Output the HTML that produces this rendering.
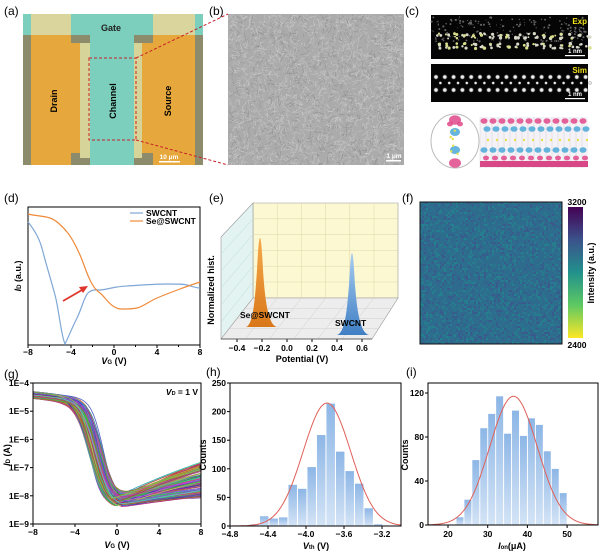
<!DOCTYPE html>
<html><head><meta charset="utf-8">
<style>
html,body{margin:0;padding:0;background:#fff;}
svg{display:block;font-family:"Liberation Sans",sans-serif;}
.pl{font-size:12px;}
.tk{font-size:8.5px;font-weight:bold;}
.lb{font-size:9px;font-weight:bold;}
</style></head>
<body>
<svg id="s" width="600" height="556" viewBox="0 0 600 556" xmlns="http://www.w3.org/2000/svg">
<defs>
<linearGradient id="bar" x1="0" y1="0" x2="0" y2="1"><stop offset="0" stop-color="#8db6e6"/><stop offset="1" stop-color="#d4e4f6"/></linearGradient>
<linearGradient id="vir" x1="0" y1="1" x2="0" y2="0">
<stop offset="0" stop-color="#fde725"/><stop offset="0.25" stop-color="#5ec962"/><stop offset="0.5" stop-color="#21918c"/><stop offset="0.75" stop-color="#3b528b"/><stop offset="1" stop-color="#440154"/></linearGradient>
<linearGradient id="og" x1="0" y1="0" x2="0" y2="1"><stop offset="0" stop-color="#f5a94a"/><stop offset="1" stop-color="#d9781a"/></linearGradient>
<linearGradient id="bg" x1="0" y1="0" x2="0" y2="1"><stop offset="0" stop-color="#a8cdf0"/><stop offset="1" stop-color="#3f7fc4"/></linearGradient>
<radialGradient id="dot"><stop offset="0" stop-color="#fff"/><stop offset="0.5" stop-color="#ddd"/><stop offset="1" stop-color="#000" stop-opacity="0"/></radialGradient>
<clipPath id="cb"><rect x="228" y="14" width="176" height="151"/></clipPath>
<clipPath id="cf"><rect x="420" y="202" width="142" height="142"/></clipPath>
<clipPath id="cg"><rect x="33" y="383" width="168" height="141"/></clipPath>
<clipPath id="ch"><rect x="230" y="383" width="171" height="143"/></clipPath>
<clipPath id="ci"><rect x="428" y="383" width="170" height="142"/></clipPath>
</defs>

<text class="pl" x="4" y="15">(a)</text>
<text class="pl" x="209" y="15">(b)</text>
<text class="pl" x="405" y="15">(c)</text>
<text class="pl" x="4" y="202">(d)</text>
<text class="pl" x="209" y="202">(e)</text>
<text class="pl" x="402" y="202">(f)</text>
<text class="pl" x="4" y="378">(g)</text>
<text class="pl" x="206" y="376">(h)</text>
<text class="pl" x="406" y="376">(i)</text>

<!-- (a) -->
<rect x="23" y="14" width="180" height="151" fill="#7ccfbd"/>
<rect x="31" y="14" width="40" height="21" fill="#d9d59c"/>
<rect x="153" y="14" width="42" height="21" fill="#d9d59c"/>
<rect x="23" y="35" width="8" height="130" fill="#8c8b6c"/>
<rect x="195" y="35" width="8" height="130" fill="#8c8b6c"/>
<rect x="31" y="35" width="49" height="130" fill="#e6a83c"/>
<rect x="142" y="35" width="53" height="130" fill="#e6a83c"/>
<rect x="71" y="35" width="19" height="8" fill="#8c8b6c"/>
<rect x="134" y="35" width="19" height="8" fill="#8c8b6c"/>
<rect x="71" y="153" width="19" height="12" fill="#8c8b6c"/>
<rect x="134" y="153" width="19" height="12" fill="#8c8b6c"/>
<rect x="80" y="43" width="10" height="115" fill="#d7d49a"/>
<rect x="134" y="43" width="8" height="115" fill="#d7d49a"/>
<rect x="90" y="35" width="44" height="130" fill="#7ccfbd"/>
<rect x="89" y="58" width="47" height="82" fill="none" stroke="#c8202a" stroke-width="1" stroke-dasharray="3,2"/>
<line x1="136" y1="58" x2="228" y2="14" stroke="#c8202a" stroke-dasharray="3,2"/>
<line x1="136" y1="140" x2="228" y2="165" stroke="#c8202a" stroke-dasharray="3,2"/>
<text class="lb" x="111" y="31" text-anchor="middle" fill="#222">Gate</text>
<text class="lb" transform="translate(57,101) rotate(-90)" text-anchor="middle">Drain</text>
<text class="lb" transform="translate(116,101) rotate(-90)" text-anchor="middle">Channel</text>
<text class="lb" transform="translate(171,101) rotate(-90)" text-anchor="middle">Source</text>
<text x="169" y="159" font-size="6.5" font-weight="bold" fill="#fff" text-anchor="middle">10 μm</text>
<rect x="159" y="161" width="21" height="1.5" fill="#fff"/>

<!-- (b) -->
<rect x="228" y="14" width="176" height="151" fill="#ababab"/>
<g id="bt" clip-path="url(#cb)"></g>
<text x="394" y="158" font-size="6.5" font-weight="bold" fill="#fff" text-anchor="middle">1 μm</text>
<rect x="386" y="160" width="15" height="1.5" fill="#fff"/>

<!-- (c) -->
<rect x="431" y="15" width="157" height="44" fill="#050505"/>
<g id="ce"></g>
<text x="587" y="24" font-size="8" font-weight="bold" fill="#f2e21a" text-anchor="end">Exp</text>
<text x="575" y="53" font-size="6" font-weight="bold" fill="#fff" text-anchor="middle">1 nm</text>
<rect x="565" y="55" width="20" height="1.2" fill="#fff"/>
<rect x="431" y="64" width="157" height="38" fill="#050505"/>
<g id="cs"></g>
<text x="587" y="73" font-size="8" font-weight="bold" fill="#f2e21a" text-anchor="end">Sim</text>
<text x="575" y="96" font-size="6" font-weight="bold" fill="#fff" text-anchor="middle">1 nm</text>
<rect x="565" y="98" width="20" height="1.2" fill="#fff"/>
<ellipse cx="455" cy="141" rx="24" ry="27" fill="none" stroke="#bbb" stroke-width="1"/>
<g id="cm"></g>

<!-- (d) -->
<rect x="28" y="207" width="172" height="138" fill="none" stroke="#000" stroke-width="1"/>
<path d="M28,222 C36,232 40,240 43,252 S51,280 55,295 S61,335 65,344 C68,338 72,328 77,318 S84,297 88,293 S96,290 100,290 S110,288 117,287 S155,284 167,284 S183,284 187,285 S196,288 200,288" fill="none" stroke="#7fa7d6" stroke-width="1.2"/>
<path d="M28,214 C36,216 44,216 50,218 S62,226 67,232 S76,246 80,255 S86,272 90,280 S96,290 100,293 S108,303 113,306 S119,309 123,309 S132,309 137,308 S150,301 157,298 S172,292 180,289 S194,284 200,282" fill="none" stroke="#ef8a3a" stroke-width="1.2"/>
<line x1="63" y1="301" x2="82" y2="290" stroke="#e0352a" stroke-width="1.8"/>
<polygon points="88,286 79,287 83,293" fill="#e0352a"/>
<line x1="130" y1="213" x2="143" y2="213" stroke="#7fa7d6" stroke-width="1.2"/>
<text class="tk" x="146" y="216">SWCNT</text>
<line x1="130" y1="221" x2="143" y2="221" stroke="#ef8a3a" stroke-width="1.2"/>
<text class="tk" x="146" y="224">Se@SWCNT</text>
<g id="dt"></g>
<text class="lb" transform="translate(21,276) rotate(-90)" text-anchor="middle"><tspan font-style="italic">I</tspan><tspan font-size="6">D</tspan> (a.u.)</text>
<text class="lb" x="114" y="364" text-anchor="middle"><tspan font-style="italic">V</tspan><tspan font-size="6">G</tspan> (V)</text>

<!-- (e) -->
<polygon points="253,203 398,203 398,298 253,298" fill="#fbf8d2" stroke="#999" stroke-width="0.6"/>
<polygon points="221,237 253,203 253,298 221,339" fill="#e3f3f1" stroke="#999" stroke-width="0.6"/>
<polygon points="221,339 253,298 398,298 372,339" fill="#ededed" stroke="#999" stroke-width="0.6"/>
<g id="eg" stroke="#ddd6a6" stroke-width="0.5"></g>
<path d="M246,327 C253,325 255,300 257,270 C258,250 259,238 260,238 C261,238 262,250 263,270 C265,300 268,325 277,327 Z" fill="url(#og)"/>
<path d="M337,335 C345,333 347,310 349,285 C350,265 351,253 352,253 C353,253 354,265 355,285 C357,310 360,333 369,335 Z" fill="url(#bg)"/>
<text class="tk" x="240" y="318">Se@SWCNT</text>
<text class="tk" x="335" y="326">SWCNT</text>
<g id="et"></g>
<text class="lb" x="302" y="362" text-anchor="middle">Potential (V)</text>
<text class="lb" transform="translate(214,290) rotate(-90)" text-anchor="middle">Normalized hist.</text>

<!-- (f) -->
<rect x="420" y="202" width="142" height="142" fill="#2d6c8d"/>
<g id="fm" clip-path="url(#cf)"></g>
<rect x="420" y="202" width="142" height="142" fill="none" stroke="#111" stroke-width="1"/>
<rect x="568" y="207" width="15" height="131" fill="url(#vir)"/>
<text class="tk" x="577" y="205" text-anchor="middle">3200</text>
<text class="tk" x="577" y="348" text-anchor="middle">2400</text>
<text class="lb" transform="translate(594,273) rotate(-90)" text-anchor="middle">Intensity (a.u.)</text>

<!-- (g) -->
<g id="gc" clip-path="url(#cg)"></g>
<rect x="33" y="383" width="168" height="141" fill="none" stroke="#000" stroke-width="1"/>
<g id="gt"></g>
<text class="tk" x="198" y="395" text-anchor="end"><tspan font-style="italic">V</tspan><tspan font-size="5.5">D</tspan> = 1 V</text>
<text class="lb" transform="translate(10,455) rotate(-90)" text-anchor="middle"><tspan font-style="italic">I</tspan><tspan font-size="6">D</tspan> (A)</text>
<text class="lb" x="117" y="548" text-anchor="middle"><tspan font-style="italic">V</tspan><tspan font-size="6">G</tspan> (V)</text>

<!-- (h) -->
<g id="hb" clip-path="url(#ch)"></g>
<rect x="230" y="383" width="171" height="143" fill="none" stroke="#000" stroke-width="1"/>
<g id="ht"></g>
<text class="lb" transform="translate(206,455) rotate(-90)" text-anchor="middle">Counts</text>
<text class="lb" x="316" y="549" text-anchor="middle"><tspan font-style="italic">V</tspan><tspan font-size="6">th</tspan> (V)</text>

<!-- (i) -->
<g id="ib" clip-path="url(#ci)"></g>
<rect x="428" y="383" width="170" height="142" fill="none" stroke="#000" stroke-width="1"/>
<g id="it"></g>
<text class="lb" transform="translate(408,455) rotate(-90)" text-anchor="middle">Counts</text>
<text class="lb" x="512" y="549" text-anchor="middle"><tspan font-style="italic">I</tspan><tspan font-size="6">on</tspan>(μA)</text>
</svg>
<script>
var NS="http://www.w3.org/2000/svg";
var seed=12345;function R(){seed=(seed*16807)%2147483647;return seed/2147483647;}
function el(p,t,a){var e=document.createElementNS(NS,t);for(var k in a)e.setAttribute(k,a[k]);document.getElementById(p).appendChild(e);return e;}
function txt(p,x,y,s,anc){var e=el(p,"text",{x:x,y:y,"class":"tk","text-anchor":anc||"middle"});e.textContent=s;}
// (b) texture
for(var i=0;i<3200;i++){var x=228+R()*176,y=14+R()*151,a=R()*Math.PI,l=2+R()*5;
el("bt","line",{x1:x,y1:y,x2:x+l*Math.cos(a),y2:y+l*Math.sin(a),stroke:R()<0.7?"#d2d2d2":"#858585","stroke-width":0.5,"stroke-opacity":0.7});}
// (c) exp
for(var i=0;i<200;i++){el("ce","circle",{cx:431+R()*157,cy:17+R()*25,r:0.4+R()*0.7,fill:"#666"});}
for(var k=0;k<18;k++){var x=436+k*8.8;[36,46].forEach(function(y){for(var j=0;j<4;j++)el("ce","circle",{cx:x+R()*5,cy:y+R()*5-2.5,r:0.9+R()*0.8,fill:R()<0.25?"#d8de8a":"#d8d8c8"});});}
// (c) sim
for(var k=0;k<18;k++){var x=436+k*8.8;el("cs","circle",{cx:x,cy:77,r:3,fill:"url(#dot)"});el("cs","circle",{cx:x+4.4,cy:83,r:2,fill:"url(#dot)"});el("cs","circle",{cx:x,cy:90,r:3,fill:"url(#dot)"});}
// (c) molecules
function blob(x,y,r,c){el("cm","ellipse",{cx:x,cy:y,rx:r,ry:r*0.8,fill:c,"fill-opacity":0.85});}
blob(455,120,6,"#e0488a");blob(455,132,5,"#4aa8d8");blob(455,150,5,"#4aa8d8");blob(455,163,6,"#e0488a");
blob(450,124,3,"#e0488a");blob(460,124,3,"#e0488a");
for(var i=0;i<6;i++)el("cm","circle",{cx:450+R()*10,cy:128+R()*26,r:1.2,fill:"#e6e04a"});
el("cm","rect",{x:480,y:117,width:108,height:51,fill:"#f4f2f6"});
for(var x=480;x<588;x+=6)el("cm","line",{x1:x,y1:117,x2:x,y2:168,stroke:"#ccc","stroke-width":0.4});
for(var x=484;x<588;x+=9){blob(x,121,3.5,"#e0488a");blob(x+3,129,3.5,"#4aa8d8");blob(x,150,3.5,"#4aa8d8");blob(x+2,158,3,"#e0488a");el("cm","circle",{cx:x+4,cy:140,r:1.2,fill:"#e6e04a"});}
el("cm","rect",{x:480,y:161,width:108,height:6,fill:"#d84886"});
// (d) ticks
[-8,-4,0,4,8].forEach(function(v){var x=28+(v+8)*10.75;el("dt","line",{x1:x,y1:345,x2:x,y2:348,stroke:"#000"});txt("dt",x,355,v<0?"−"+(-v):""+v);});
for(var v=-6;v<=6;v+=4){var x=28+(v+8)*10.75;el("dt","line",{x1:x,y1:345,x2:x,y2:347,stroke:"#000"});}
// (e) grid
for(var i=1;i<6;i++){var x=253+i*24.2;el("eg","line",{x1:x,y1:203,x2:x,y2:298});el("eg","line",{x1:x,y1:298,x2:x-32,y2:339,stroke:"#d0d0d0"});}
for(var j=1;j<6;j++){var y=203+j*15.8;el("eg","line",{x1:253,y1:y,x2:398,y2:y});el("eg","line",{x1:221,y1:237+j*17,x2:253,y2:y,stroke:"#b8dcd8"});}
for(var j=1;j<4;j++){var t=j/4;el("eg","line",{x1:253-32*t,y1:298+41*t,x2:398-26*t,y2:298+41*t,stroke:"#d0d0d0"});}
for(var i=0;i<6;i++){var v=-0.4+i*0.2;var x=237+i*25;el("et","line",{x1:x,y1:339,x2:x,y2:342,stroke:"#000"});txt("et",x,351,(v<-0.01?"−":"")+Math.abs(v).toFixed(1));}
el("et","line",{x1:221,y1:339,x2:372,y2:339,stroke:"#444","stroke-width":0.8});
// (f) map
var cols=["#2d6c8d","#31688e","#2a738e","#297a8e","#35608d","#2c718e","#3a5a8c","#24808e"];
for(var x=420;x<562;x+=2)for(var y=202;y<344;y+=2){var r=R();var c=cols[Math.floor(r*r*cols.length*1.2)%cols.length];el("fm","rect",{x:x,y:y,width:2,height:2,fill:c});}
// (g) curves
function gy(l){return 383+(-4-l)*28.2;}function gx(v){return 33+(v+8)*10.5;}
for(var i=0;i<160;i++){var on=-4.3-R()*0.25,vt=-2.7+R()*1.4,off=-8.15-R()*0.3,vm=-0.6+R()*1.2,re=-8.1+R()*1.3,w=0.55+R()*0.25;
if(re<off+0.05)re=off+0.05;var d="";
for(var v=-8;v<=8.01;v+=0.25){var s=1/(1+Math.exp((v-vt)/w));var base=v<vm?off+0.15*(vm-v)/4:off+(re-off)*Math.pow((v-vm)/(8-vm),0.8);var o=on-0.04*(v+8);var l=base+(o-base)*s;
d+=(d?"L":"M")+gx(v).toFixed(1)+","+gy(l).toFixed(1);}
el("gc","path",{d:d,fill:"none",stroke:"hsl("+Math.floor(R()*360)+","+(40+R()*40)+"%,"+(40+R()*20)+"%)","stroke-width":0.8});}
for(var k=4;k<=9;k++){var y=gy(-k);el("gt","line",{x1:30,y1:y,x2:33,y2:y,stroke:"#000"});txt("gt",29,y+3,"1E−"+k,"end");}
[-8,-4,0,4,8].forEach(function(v){var x=gx(v);el("gt","line",{x1:x,y1:524,x2:x,y2:527,stroke:"#000"});txt("gt",x,535,v<0?"−"+(-v):""+v);});
// (h)
function hx(v){return 230+(v+4.8)*95;}function hy(c){return 526-c*0.572;}
var hc=[3,17,13,15,72,65,103,159,214,130,96,74,31,3];
hc.forEach(function(c,i){var x=hx(-4.59+i*0.1);el("hb","rect",{x:x+0.5,y:hy(c),width:8.5,height:c*0.572,fill:"url(#bar)"});});
var d="";for(var v=-4.8;v<=-3.0;v+=0.02){var c=215*Math.exp(-Math.pow(v+3.78,2)/(2*0.25*0.25));d+=(d?"L":"M")+hx(v).toFixed(1)+","+hy(c).toFixed(1);}
el("hb","path",{d:d,fill:"none",stroke:"#e0605a","stroke-width":1});
for(var c=0;c<=250;c+=50){var y=hy(c);el("ht","line",{x1:227,y1:y,x2:230,y2:y,stroke:"#000"});txt("ht",226,y+3,""+c,"end");}
[-4.8,-4.4,-4.0,-3.6,-3.2].forEach(function(v){var x=hx(v);el("ht","line",{x1:x,y1:526,x2:x,y2:529,stroke:"#000"});txt("ht",x,537,"−"+(-v).toFixed(1));});
// (i)
function ix(v){return 448+(v-20)*3.97;}function iy(c){return 525-c*1.1;}
var ic=[7,23,59,88,101,117,83,104,81,97,91,67,51,29];
ic.forEach(function(c,i){var x=ix(22+i*2);el("ib","rect",{x:x+0.5,y:iy(c),width:7,height:c*1.1,fill:"url(#bar)"});});
d="";for(var v=14;v<=58;v+=0.2){var c=117*Math.exp(-Math.pow(v-36.5,2)/(2*36));d+=(d?"L":"M")+ix(v).toFixed(1)+","+iy(c).toFixed(1);}
el("ib","path",{d:d,fill:"none",stroke:"#e0605a","stroke-width":1});
for(var c=0;c<=120;c+=40){var y=iy(c);el("it","line",{x1:425,y1:y,x2:428,y2:y,stroke:"#000"});txt("it",424,y+3,""+c,"end");}
[20,30,40,50].forEach(function(v){var x=ix(v);el("it","line",{x1:x,y1:525,x2:x,y2:528,stroke:"#000"});txt("it",x,537,""+v);});
</script>
</body></html>
